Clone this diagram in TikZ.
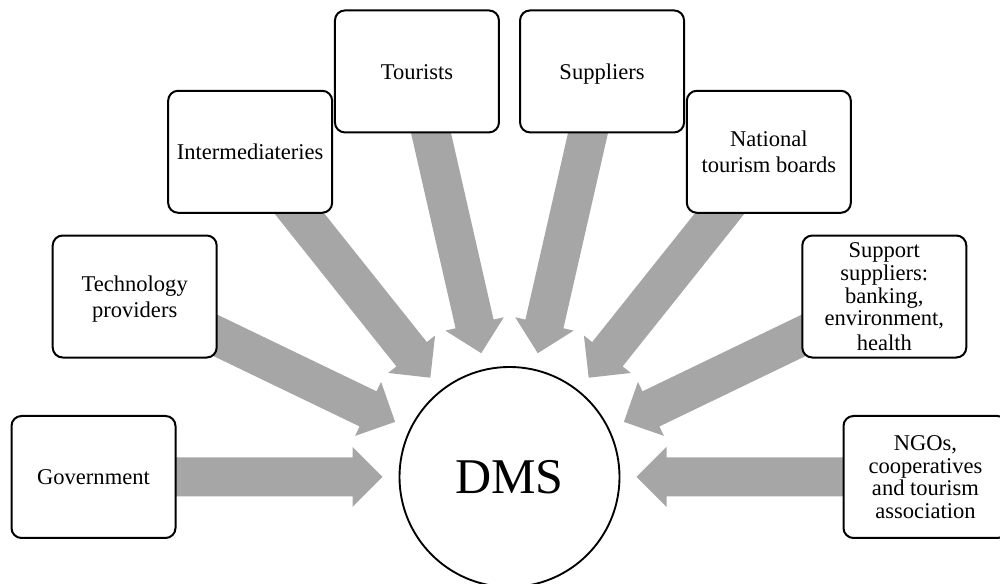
\documentclass[tikz,border=0pt]{standalone}
\usepackage{fontspec}
\setmainfont{Liberation Serif}
\usetikzlibrary{backgrounds,calc}
\definecolor{spoke}{HTML}{A6A6A6}
% line strut with the ascent (15pt) and descent (3.6pt) of the text face
\newcommand\lnstrut{\rule[-3.6pt]{0pt}{18.6pt}}
\tikzset{
  member/.style={draw=black, line width=1.5pt, rounded corners=7.5pt, fill=white,
    minimum width=123pt, minimum height=91.5pt, inner sep=0pt, align=center,
    font=\fontsize{16.9}{17}\selectfont},
  hubnode/.style={circle, draw=black, line width=1.4pt, fill=white,
    minimum size=165pt, inner sep=0pt, font=\fontsize{37.5}{40}\selectfont},
}
\begin{document}
\begin{tikzpicture}[x=0.75pt,y=0.75pt]
\useasboundingbox (0,0) rectangle (1000,584);
\clip (0,0) rectangle (1000,584);

% central system
\node[hubnode] (hub) at (509.5,107) {DMS};

% stakeholders on a half ring around the hub
\node[member] (gov)       at ([shift={(180:416)}]hub.center)     {\lnstrut Government};
\node[member] (tech)      at ([shift={(154.286:416)}]hub.center) {\lnstrut Technology\\providers\lnstrut};
\node[member] (inter)     at ([shift={(128.571:416)}]hub.center) {\lnstrut Intermediateries};
\node[member] (tourists)  at ([shift={(102.857:416)}]hub.center) {\lnstrut Tourists};
\node[member] (suppliers) at ([shift={(77.143:416)}]hub.center)  {\lnstrut Suppliers};
\node[member] (national)  at ([shift={(51.429:416)}]hub.center)  {\lnstrut National\\tourism boards\lnstrut};
\node[member] (support)   at ([shift={(25.714:416)}]hub.center)  {\lnstrut Support\\suppliers:\\banking,\\environment,\\health\lnstrut};
\node[member] (ngos)      at ([shift={(0:416)}]hub.center)       {\lnstrut NGOs,\\cooperatives\\and tourism\\association\lnstrut};

% block arrows from each stakeholder into the hub
\begin{scope}[on background layer]
\foreach \who in {gov,tech,inter,tourists,suppliers,national,support,ngos}{
  \fill[spoke] let \p1=($(\who.center)-(hub.center)$), \n1={atan2(\y1,\x1)} in
    ($(hub.center)+(\n1:127)$)
    -- ($(hub.center)+(\n1:157)+(\n1+90:30)$)
    -- ($(hub.center)+(\n1:157)+(\n1+90:19.5)$)
    -- ($(\who.center)+(\n1+90:19.5)$)
    -- ($(\who.center)+(\n1-90:19.5)$)
    -- ($(hub.center)+(\n1:157)+(\n1-90:19.5)$)
    -- ($(hub.center)+(\n1:157)+(\n1-90:30)$)
    -- cycle;
}
\end{scope}
\end{tikzpicture}
\end{document}
